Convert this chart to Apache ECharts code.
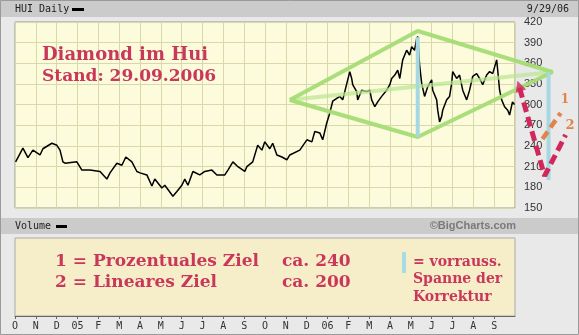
<!DOCTYPE html>
<html><head><meta charset="utf-8">
<script src="https://cdn.jsdelivr.net/npm/echarts@6/dist/echarts.min.js"></script>
<style>html,body{margin:0;padding:0;background:#e9e9e9}#c{width:579px;height:335px}</style>
</head><body><div id="c"></div><script>
// HUI daily close; position in months since 1 Oct 2004
const huiMonth = [0.03,0.38,0.62,0.86,1.20,1.34,1.77,2.01,2.16,2.30,2.40,2.97,3.21,3.60,4.08,4.41,4.56,4.89,5.13,5.32,5.61,5.85,6.00,6.33,6.57,6.71,7.05,7.19,7.58,7.77,8.01,8.15,8.30,8.54,8.87,9.11,9.45,9.69,10.07,10.22,10.46,10.70,11.03,11.13,11.41,11.65,11.85,11.99,12.23,12.37,12.57,12.81,13.05,13.19,13.67,14.01,14.25,14.39,14.63,14.77,14.96,15.11,15.25,15.59,15.73,15.97,16.07,16.16,16.21,16.40,16.45,16.64,16.88,17.03,17.12,17.27,17.41,17.60,17.84,17.99,18.08,18.23,18.37,18.47,18.61,18.80,18.94,19.04,19.18,19.28,19.33,19.42,19.52,19.66,19.81,20.00,20.05,20.24,20.29,20.38,20.48,20.53,20.72,20.86,20.96,21.01,21.20,21.34,21.49,21.68,21.82,21.97,22.16,22.30,22.45,22.64,22.78,22.93,23.12,23.17,23.26,23.36,23.50,23.65,23.74,23.88,23.98];
const huiClose = [217,237,223,234,227,236,244,241,234,217,215,217,205,205,203,192,201,215,212,224,217,203,201,198,182,192,179,183,167,174,183,192,183,203,198,203,205,198,198,205,217,210,203,210,217,241,234,246,236,244,227,224,220,227,234,249,246,261,259,249,273,288,305,312,307,336,348,338,329,319,307,321,319,321,307,297,304,312,321,329,338,343,350,338,365,379,372,384,379,396,399,358,331,312,326,336,321,307,292,275,283,292,307,312,331,348,338,343,321,307,321,341,345,338,329,343,348,345,365,350,321,307,297,292,285,304,300];

// month labels under the lower panel
const monthLabels = ['O','N','D','05','F','M','A','M','J','J','A','S','O','N','D','06','F','M','A','M','J','J','A','S'];
const priceTicks = {min:150, max:420, step:30};
const monthsShown = 24;

// diamond pattern and correction targets drawn over the price chart: [month, value]
const diamondOuter = [[13.19,306.8],[19.33,406.9],[25.80,347.4],[19.33,253.0],[13.19,306.8]];
const diamondMid = [[13.19,306.8],[25.80,347.4]];
const spanLeft = [[19.33,398.0],[19.33,253.0]];
const spanRight = [[25.61,347.0],[25.61,190.6]];
const targetPath = [[24.22,324.2],[25.42,196.5],[26.43,256.0]];
const targetPct = [[25.32,250.2],[26.19,287.9]];
const arrowTip = [[24.20,327.0]];

const huiData = huiMonth.map((m,i)=>[m,huiClose[i]]);

const chart = echarts.init(document.getElementById('c'), null, {renderer:'canvas'});
const mono = 'DejaVu Sans Mono';
const red = '#c9385a';
const legendFont = 'bold 17px "DejaVu Serif"';
const noteFont = 'bold 14px "DejaVu Serif"';

// price panel geometry; the overlay grid shares its scale but reaches the right edge
const plotLeft = 15, plotWidth = 500, overlayWidth = 564;

function annot(data, color, width, type, z, opacity){
  return {type:'line', xAxisIndex:2, yAxisIndex:2, data, clip:false, silent:true,
    symbol:'none', z, lineStyle:{color, width, type:type||'solid', opacity:opacity==null?1:opacity, cap:'butt'},
    animation:false};
}

chart.setOption({
  animation:false,
  backgroundColor:'#e9e9e9',
  grid:[
    {left:plotLeft, width:plotWidth, top:22, height:186, show:true, backgroundColor:'#fcfbdc', borderColor:'#999', borderWidth:1},
    {left:plotLeft, width:plotWidth, top:238, height:78, show:true, backgroundColor:'#f6eec8', borderColor:'#aaa', borderWidth:1},
    {left:plotLeft, width:overlayWidth, top:22, height:186, show:false}
  ],
  xAxis:[
    {gridIndex:0, type:'value', min:0, max:monthsShown, interval:1,
     axisLine:{show:false}, axisTick:{show:false}, axisLabel:{show:false},
     splitLine:{show:true, lineStyle:{color:'#d8d8aa', width:1}}},
    {gridIndex:1, type:'value', min:0, max:monthsShown, interval:1,
     axisLine:{show:true, onZero:false, lineStyle:{color:'#666', width:1}},
     axisTick:{show:true, length:3, lineStyle:{color:'#666'}},
     axisLabel:{margin:5, fontFamily:mono, fontSize:10, color:'#333',
       showMaxLabel:false, formatter:v=>monthLabels[v]||''},
     splitLine:{show:false}},
    {gridIndex:2, type:'value', min:0, max:monthsShown*overlayWidth/plotWidth, show:false}
  ],
  yAxis:[
    {gridIndex:0, type:'value', position:'right', min:priceTicks.min, max:priceTicks.max, interval:priceTicks.step,
     axisLine:{show:false}, axisTick:{show:false},
     axisLabel:{margin:9, fontFamily:'Liberation Sans', fontSize:11, color:'#333'},
     splitLine:{show:true, lineStyle:{color:'#d8d8aa', width:1}}},
    {gridIndex:1, type:'value', min:0, max:1, show:false},
    {gridIndex:2, type:'value', min:priceTicks.min, max:priceTicks.max, show:false}
  ],
  series:[
    {type:'line', name:'HUI', data:huiData, symbol:'none', z:2,
     lineStyle:{color:'#000', width:1.5}, silent:true},
    annot(diamondMid, '#b8e690', 4, 'solid', 3, 0.7),
    annot(diamondOuter, '#a4dc74', 4, 'solid', 4, 0.95),
    annot(spanLeft, '#a6d8e2', 4, 'solid', 5, 1),
    annot(spanRight, '#a6d8e2', 4, 'solid', 5, 1),
    annot(targetPct, '#e0844a', 4.5, [9,5], 6, 1),
    annot(targetPath, '#d0285a', 5, [10,5], 7, 1),
    {type:'scatter', xAxisIndex:2, yAxisIndex:2, data:arrowTip, clip:false, silent:true, z:8,
     symbol:'triangle', symbolSize:[11,11], symbolRotate:18,
     itemStyle:{color:'#d0285a'}}
  ],
  graphic:[
    {type:'rect', shape:{x:0,y:0,width:579,height:17}, style:{fill:'#cbcbcb'}, silent:true},
    {type:'rect', shape:{x:0,y:218,width:579,height:16}, style:{fill:'#cbcbcb'}, silent:true},
    {type:'rect', shape:{x:0.5,y:0.5,width:578,height:334}, style:{fill:null, stroke:'#9a9a9a', lineWidth:1}, silent:true},
    {type:'text', style:{text:'HUI Daily', x:15, y:9, fill:'#222', font:'10px "DejaVu Sans Mono"', textVerticalAlign:'middle'}},
    {type:'rect', shape:{x:72,y:8,width:12,height:3}, style:{fill:'#000'}},
    {type:'text', style:{text:'9/29/06', x:569, y:9, fill:'#222', font:'10px "DejaVu Sans Mono"', textAlign:'right', textVerticalAlign:'middle'}},
    {type:'text', style:{text:'Volume', x:15, y:226, fill:'#222', font:'10px "DejaVu Sans Mono"', textVerticalAlign:'middle'}},
    {type:'rect', shape:{x:56,y:225,width:11,height:3}, style:{fill:'#000'}},
    {type:'text', style:{text:'\u00A9BigCharts.com', x:516, y:226, fill:'#7a7a7a', font:'bold 11px "Liberation Sans"', textAlign:'right', textVerticalAlign:'middle'}},
    {type:'text', z:10, style:{text:'Diamond im Hui', x:42, y:55, fill:red, font:'bold 18px "DejaVu Serif"', textVerticalAlign:'middle'}},
    {type:'text', z:10, style:{text:'Stand: 29.09.2006', x:42, y:77, fill:red, font:'bold 17px "DejaVu Serif"', textVerticalAlign:'middle'}},
    {type:'text', z:10, style:{text:'1', x:565, y:100, fill:'#e0844a', font:'bold 12px "DejaVu Serif"', textAlign:'center', textVerticalAlign:'middle'}},
    {type:'text', z:10, style:{text:'2', x:570, y:126, fill:'#e0844a', font:'bold 13px "DejaVu Serif"', textAlign:'center', textVerticalAlign:'middle'}},
    {type:'text', z:10, style:{text:'1 = Prozentuales Ziel', x:55, y:262, fill:red, font:legendFont, textVerticalAlign:'middle'}},
    {type:'text', z:10, style:{text:'ca. 240', x:282, y:262, fill:red, font:legendFont, textVerticalAlign:'middle'}},
    {type:'text', z:10, style:{text:'2 = Lineares Ziel', x:55, y:283, fill:red, font:legendFont, textVerticalAlign:'middle'}},
    {type:'text', z:10, style:{text:'ca. 200', x:282, y:283, fill:red, font:legendFont, textVerticalAlign:'middle'}},
    {type:'rect', z:10, shape:{x:402,y:252,width:4,height:21}, style:{fill:'#a6dce2'}},
    {type:'text', z:10, style:{text:'= vorrauss.', x:413, y:262, fill:red, font:noteFont, textVerticalAlign:'middle'}},
    {type:'text', z:10, style:{text:'Spanne der', x:413, y:279, fill:red, font:noteFont, textVerticalAlign:'middle'}},
    {type:'text', z:10, style:{text:'Korrektur', x:413, y:297, fill:red, font:noteFont, textVerticalAlign:'middle'}}
  ]
});
</script></body></html>
